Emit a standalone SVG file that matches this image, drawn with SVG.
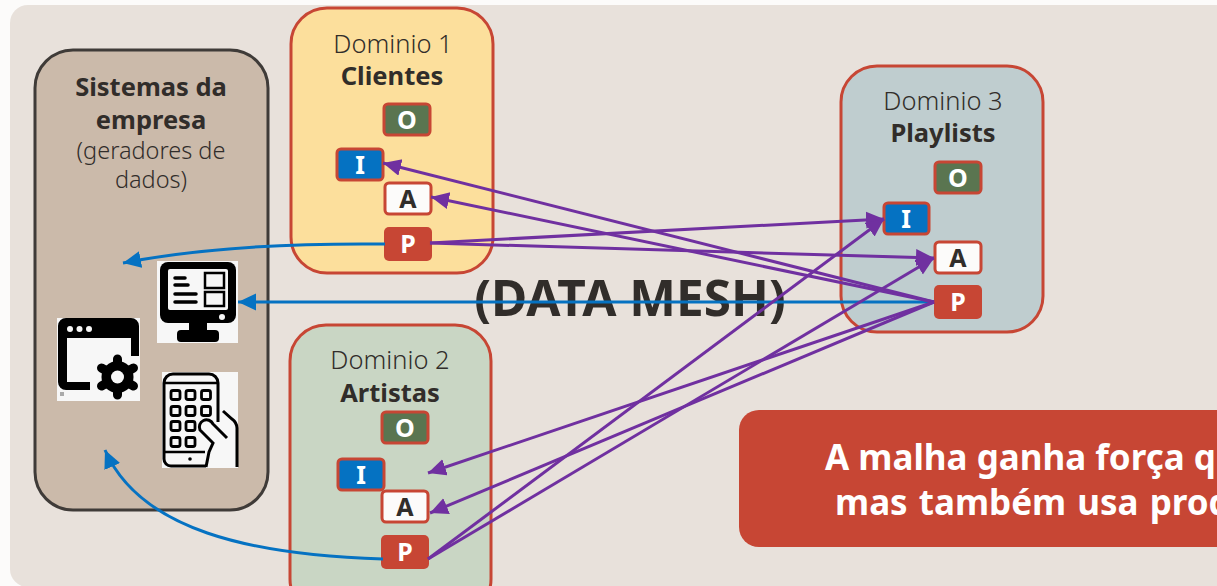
<svg xmlns="http://www.w3.org/2000/svg" width="1217" height="586" viewBox="0 0 1217 586">
<style>
text{font-family:"Noto Sans","Open Sans","Liberation Sans",sans-serif;text-anchor:middle;fill:#312d2a}
.dom{stroke:#c74634;stroke-width:3}
.t{font-size:25.500px;font-weight:300}
.b{font-size:25.500px;font-weight:700}
.s{font-size:23.500px;font-weight:300}
.l{font-size:25px;font-weight:700}
text.w{fill:#fff}
.box{stroke:#c74634;stroke-width:3}
.o{fill:#5a7550}.i{fill:#0572c2}.a{fill:#fcfbfa}.p{fill:#c74634}
.blue{fill:none;stroke:#0572c2;stroke-width:3;marker-end:url(#ab)}
.pur{fill:none;stroke:#7030a0;stroke-width:3;marker-end:url(#ap)}
.k{fill:#000}.ks{fill:none;stroke:#000}
.c{font-size:35px;font-weight:700;text-anchor:start}
</style>
<defs>
<marker id="ab" markerUnits="userSpaceOnUse" markerWidth="20" markerHeight="18" refX="18" refY="8.500" orient="auto"><path d="M0 0L18 8.500L0 17Z" fill="#0572c2"/></marker>
<marker id="ap" markerUnits="userSpaceOnUse" markerWidth="20" markerHeight="18" refX="18" refY="8.500" orient="auto"><path d="M0 0L18 8.500L0 17Z" fill="#7030a0"/></marker>
</defs>
<rect width="1217" height="586" fill="#fcfbfa"/>
<rect x="10" y="5" width="1240" height="582" rx="18" fill="#e8e1db"/>
<g id="sistemas">
<rect x="35" y="50" width="233" height="460" rx="38" fill="#cbbaaa" stroke="#3f3b38" stroke-width="3"/>
<text class="b" x="151" y="96">Sistemas da</text>
<text class="b" x="151" y="129">empresa</text>
<text class="s" x="151" y="159">(geradores de</text>
<text class="s" x="151" y="188">dados)</text>
</g>
<g id="icon-monitor">
<rect x="157" y="261" width="81" height="82" fill="#f7f7f7"/>
<rect x="160" y="262" width="76" height="61" rx="8" class="k"/>
<rect x="168" y="269" width="60" height="41" rx="2" fill="#f7f7f7"/>
<rect x="189" y="320" width="18" height="12" class="k"/>
<rect x="177" y="330" width="42" height="12" rx="4" class="k"/>
<circle cx="222" cy="317" r="3" fill="#f7f7f7"/>
<path d="M175 278h10M175 285h13M175 294h21M175 302h21" stroke="#000" stroke-width="3.500" stroke-linecap="round" fill="none"/>
<rect x="205" y="273" width="19" height="15" fill="none" stroke="#000" stroke-width="2.500"/>
<rect x="205" y="292" width="19" height="14" fill="none" stroke="#000" stroke-width="2.500"/>
</g>
<g id="icon-janela">
<rect x="57" y="318" width="83" height="83" fill="#f7f7f7"/>
<path d="M66 318h65a8 8 0 0 1 8 8v30h-8v-18H67v44h23v8H66a8 8 0 0 1-8-8V326a8 8 0 0 1 8-8Z" class="k"/>
<circle cx="70" cy="329" r="3" fill="#f7f7f7"/><circle cx="79.500" cy="329" r="3" fill="#f7f7f7"/><circle cx="89" cy="329" r="3" fill="#f7f7f7"/>
<circle cx="117.500" cy="377" r="16" class="k"/>
<path d="M117.500 359v36M101.500 368l32 18M101.500 386l32-18" stroke="#000" stroke-width="9" stroke-linecap="round"/>
<circle cx="117.500" cy="377" r="6.500" fill="#f7f7f7"/>
<rect x="60" y="392" width="4" height="4" fill="#aaa"/>
</g>
<g id="icon-tablet">
<rect x="162" y="372" width="76" height="96" fill="#f7f7f7"/>
<path d="M218 422V383a9 9 0 0 0-9-9H173a9 9 0 0 0-9 9v76a7 7 0 0 0 7 7h35" class="ks" stroke-width="3"/>
<path d="M164 383h54M164 452h41" class="ks" stroke-width="2.500"/>
<circle cx="190" cy="459" r="1.800" class="k"/>
<g class="ks" stroke-width="2.800">
<rect x="171" y="390.500" width="9" height="9" rx="2"/><rect x="186" y="390.500" width="9" height="9" rx="2"/><rect x="201.500" y="390.500" width="9" height="9" rx="2"/>
<rect x="171" y="406.500" width="9" height="9" rx="2"/><rect x="186" y="406.500" width="9" height="9" rx="2"/><rect x="201.500" y="406.500" width="9" height="9" rx="2"/>
<rect x="171" y="421.500" width="9" height="9" rx="2"/><rect x="186" y="421.500" width="9" height="9" rx="2"/>
<rect x="171" y="437.500" width="9" height="9" rx="2"/><rect x="186" y="437.500" width="9" height="9" rx="2"/>
</g>
<path d="M223 411l9 8a12 12 0 0 1 5 9v39" class="ks" stroke-width="3"/>
<path d="M227 438l-14-14a6 6 0 0 0-13 6l13 13-4 9-3 15" class="ks" stroke-width="3"/>
</g>
<g id="dominio1">
<rect class="dom" x="291" y="8" width="202" height="265" rx="36" fill="#fcdf9c"/>
<text class="t" x="393" y="53">Dominio 1</text>
<text class="b" x="392" y="85">Clientes</text>
<rect class="box o" x="384" y="104" width="46" height="31" rx="4"/><text class="l w" x="407" y="129">O</text>
<rect class="box i" x="337" y="149" width="46" height="31" rx="4"/><text class="l w" x="360" y="174">I</text>
<rect class="box a" x="385" y="183" width="46" height="31" rx="4"/><text class="l" x="408" y="208">A</text>
<rect class="p" x="384" y="227" width="48" height="34" rx="5"/><text class="l w" x="408" y="253">P</text>
</g>
<g id="dominio2">
<rect class="dom" x="290" y="325" width="201" height="290" rx="36" fill="#c9d6c4"/>
<text class="t" x="390" y="369">Dominio 2</text>
<text class="b" x="390" y="402">Artistas</text>
<rect class="box o" x="382" y="412" width="46" height="31" rx="4"/><text class="l w" x="405" y="437">O</text>
<rect class="box i" x="338" y="459" width="46" height="31" rx="4"/><text class="l w" x="361" y="484">I</text>
<rect class="box a" x="382" y="491" width="46" height="31" rx="4"/><text class="l" x="405" y="516">A</text>
<rect class="p" x="381" y="535" width="48" height="34" rx="5"/><text class="l w" x="405" y="561">P</text>
</g>
<g id="dominio3">
<rect class="dom" x="841" y="66" width="202" height="266" rx="36" fill="#bfcdcf"/>
<text class="t" x="943" y="110">Dominio 3</text>
<text class="b" x="943" y="142">Playlists</text>
<rect class="box o" x="935" y="162" width="46" height="31" rx="4"/><text class="l w" x="958" y="187">O</text>
<rect class="box i" x="884" y="203" width="45" height="31" rx="4"/><text class="l w" x="906" y="228">I</text>
<rect class="box a" x="935" y="242" width="46" height="31" rx="4"/><text class="l" x="958" y="267">A</text>
<rect class="p" x="934" y="285" width="48" height="34" rx="5"/><text class="l w" x="958" y="311">P</text>
</g>
<text id="titulo" x="630" y="316" style="font-size:49.500px;font-weight:700">(DATA MESH)</text>
<g id="callout">
<rect x="739" y="410" width="520" height="137" rx="20" fill="#c74634"/>
<text class="c w" x="825" y="470">A malha ganha força q</text>
<text class="c w" x="835" y="515" style="word-spacing:2px">mas também usa prod</text>
</g>
<g id="conectores">
<path class="blue" d="M385 244C290 243 200 248 123 263"/>
<path class="blue" d="M934 302H238"/>
<path class="blue" d="M383 559C250 555 140 530 105 450"/>
<path class="pur" d="M430 243L884 219"/>
<path class="pur" d="M430 243L934 258"/>
<path class="pur" d="M934 302L383 163"/>
<path class="pur" d="M934 302L431 197"/>
<path class="pur" d="M934 302L428 473"/>
<path class="pur" d="M934 302L430 513"/>
<path class="pur" d="M428 559L884 219"/>
<path class="pur" d="M428 559L934 258"/>
</g>
</svg>
